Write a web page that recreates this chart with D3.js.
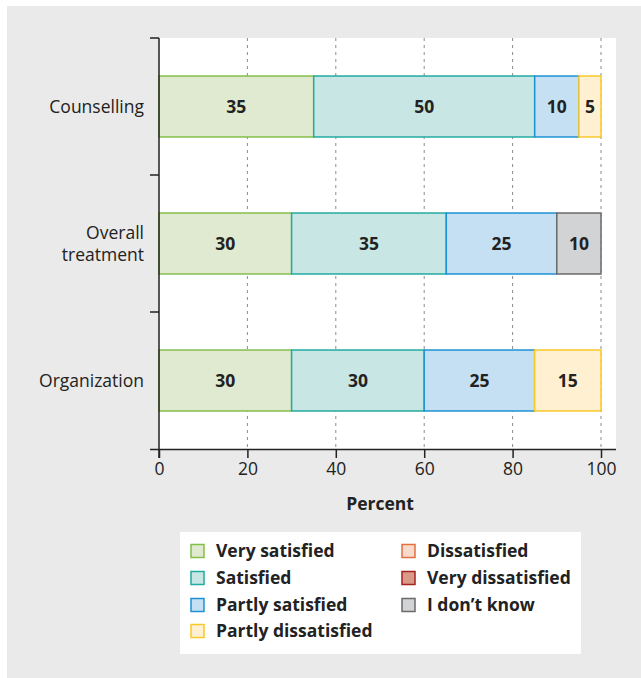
<!DOCTYPE html>
<html><head><meta charset="utf-8">
<script src="https://cdn.jsdelivr.net/npm/d3@7"></script>
<style>
html,body{margin:0;padding:0;background:#fff;}
svg{display:block;}
</style>
</head><body>
<svg id="chart" width="641" height="678"></svg>
<script>
// ---- data ----
const categories = ["Counselling", "Overall treatment", "Organization"];
const seriesNames = ["Very satisfied", "Satisfied", "Partly satisfied", "Partly dissatisfied", "Dissatisfied", "Very dissatisfied", "I don\u2019t know"];
const verySatisfied = [35, 30, 30];
const satisfied = [50, 35, 30];
const partlySatisfied = [10, 25, 25];
const partlyDissatisfied = [5, 0, 15];
const dissatisfied = [0, 0, 0];
const veryDissatisfied = [0, 0, 0];
const dontKnow = [0, 10, 0];
const xTicks = [0, 20, 40, 60, 80, 100];
const fills = ["#dfead0", "#c8e6e4", "#c6e0f3", "#fef0d0", "#f7dacb", "#d99b87", "#d2d3d5"];
const strokes = ["#84bf4a", "#22aba0", "#1d92d4", "#f9c92a", "#e2703f", "#a52222", "#6a6a6a"];

const seriesValues = [verySatisfied, satisfied, partlySatisfied, partlyDissatisfied, dissatisfied, veryDissatisfied, dontKnow];

const FONT = "'Open Sans', 'Noto Sans', sans-serif";
const FS = 17.5;
const svg = d3.select("#chart").style("font-family", FONT);

// backgrounds
svg.append("rect").attr("x", 7).attr("y", 6).attr("width", 634).attr("height", 672).attr("fill", "#e9eae9");
const plot = {left: 159, right: 601, top: 38, bottom: 449};
svg.append("rect").attr("x", plot.left).attr("y", plot.top).attr("width", 616 - plot.left).attr("height", plot.bottom - plot.top).attr("fill", "#fff");

const x = d3.scaleLinear().domain([0, 100]).range([plot.left, plot.right]);
const y = d3.scaleBand().domain(categories).range([plot.top, plot.bottom]).padding(0);
const barH = y.bandwidth() * 0.445;

// grid
svg.append("g").selectAll("line").data(xTicks.slice(1)).join("line")
  .attr("x1", d => x(d)).attr("x2", d => x(d))
  .attr("y1", plot.top).attr("y2", plot.bottom)
  .attr("stroke", "#8a8a8a").attr("stroke-width", 1).attr("stroke-dasharray", "3,4");

// stacked data
const rows = categories.map((c, i) => {
  const o = {cat: c};
  seriesNames.forEach((s, j) => o[s] = seriesValues[j][i]);
  return o;
});
const stack = d3.stack().keys(seriesNames)(rows);

const gBars = svg.append("g");
stack.forEach((layer, j) => {
  layer.forEach(seg => {
    const v = seg[1] - seg[0];
    if (v <= 0) return;
    const yy = y(seg.data.cat) + (y.bandwidth() - barH) / 2;
    gBars.append("rect")
      .attr("x", x(seg[0])).attr("y", yy)
      .attr("width", x(seg[1]) - x(seg[0])).attr("height", barH)
      .attr("fill", fills[j]).attr("stroke", strokes[j]).attr("stroke-width", 1.5);
  });
});
stack.forEach((layer, j) => {
  layer.forEach(seg => {
    const v = seg[1] - seg[0];
    if (v <= 0) return;
    gBars.append("text")
      .attr("x", (x(seg[0]) + x(seg[1])) / 2)
      .attr("y", y(seg.data.cat) + y.bandwidth() / 2)
      .attr("dy", "0.35em")
      .attr("text-anchor", "middle")
      .attr("font-weight", "bold").attr("font-size", FS).attr("fill", "#222")
      .text(v);
  });
});

// x axis
const xAxis = d3.axisBottom(x).tickValues(xTicks).tickSize(9).tickSizeOuter(0).tickPadding(5);
const gx = svg.append("g").attr("transform", `translate(0,${plot.bottom})`).call(xAxis);
gx.select(".domain").attr("d", `M${plot.left - 9},0.5H616`).attr("stroke", "#222").attr("stroke-width", 1.5);
gx.selectAll(".tick line").attr("y1", -0).attr("y2", 9).attr("stroke", "#222").attr("stroke-width", 1.5);
gx.selectAll(".tick text").attr("font-size", FS).attr("font-family", FONT).attr("fill", "#222");

svg.append("text").attr("x", (plot.left + plot.right) / 2).attr("y", 510)
  .attr("text-anchor", "middle").attr("font-weight", "bold").attr("font-size", FS).attr("fill", "#222")
  .text("Percent");

// y axis
const gy = svg.append("g");
gy.append("line").attr("x1", plot.left).attr("x2", plot.left).attr("y1", plot.top).attr("y2", plot.bottom + 9)
  .attr("stroke", "#222").attr("stroke-width", 1.5);
const bounds = categories.map(c => y(c)).concat([plot.bottom]);
gy.selectAll("line.tk").data(bounds.slice(0, 3)).join("line").attr("class", "tk")
  .attr("x1", plot.left - 9).attr("x2", plot.left).attr("y1", d => d).attr("y2", d => d)
  .attr("stroke", "#222").attr("stroke-width", 1.5);

categories.forEach(c => {
  const words = c === "Overall treatment" ? ["Overall", "treatment"] : [c];
  const cy = y(c) + y.bandwidth() / 2;
  const lh = 22;
  const t = gy.append("text").attr("text-anchor", "end").attr("font-size", FS).attr("fill", "#222");
  words.forEach((w, k) => {
    t.append("tspan").attr("x", 144)
      .attr("y", cy + (k - (words.length - 1) / 2) * lh).attr("dy", "0.35em").text(w);
  });
});

// legend
svg.append("rect").attr("x", 180).attr("y", 532).attr("width", 401).attr("height", 122).attr("fill", "#fff");
const legPos = [[191, 551], [191, 578], [191, 605], [191, 631], [402, 551], [402, 578], [402, 605]];
seriesNames.forEach((s, j) => {
  const [lx, ly] = legPos[j];
  svg.append("rect").attr("x", lx).attr("y", ly - 6.5).attr("width", 13).attr("height", 13)
    .attr("fill", fills[j]).attr("stroke", strokes[j]).attr("stroke-width", 1.5);
  svg.append("text").attr("x", lx + 25).attr("y", ly).attr("dy", "0.35em")
    .attr("font-weight", "bold").attr("font-size", FS).attr("fill", "#222").text(s);
});
</script>
</body></html>
